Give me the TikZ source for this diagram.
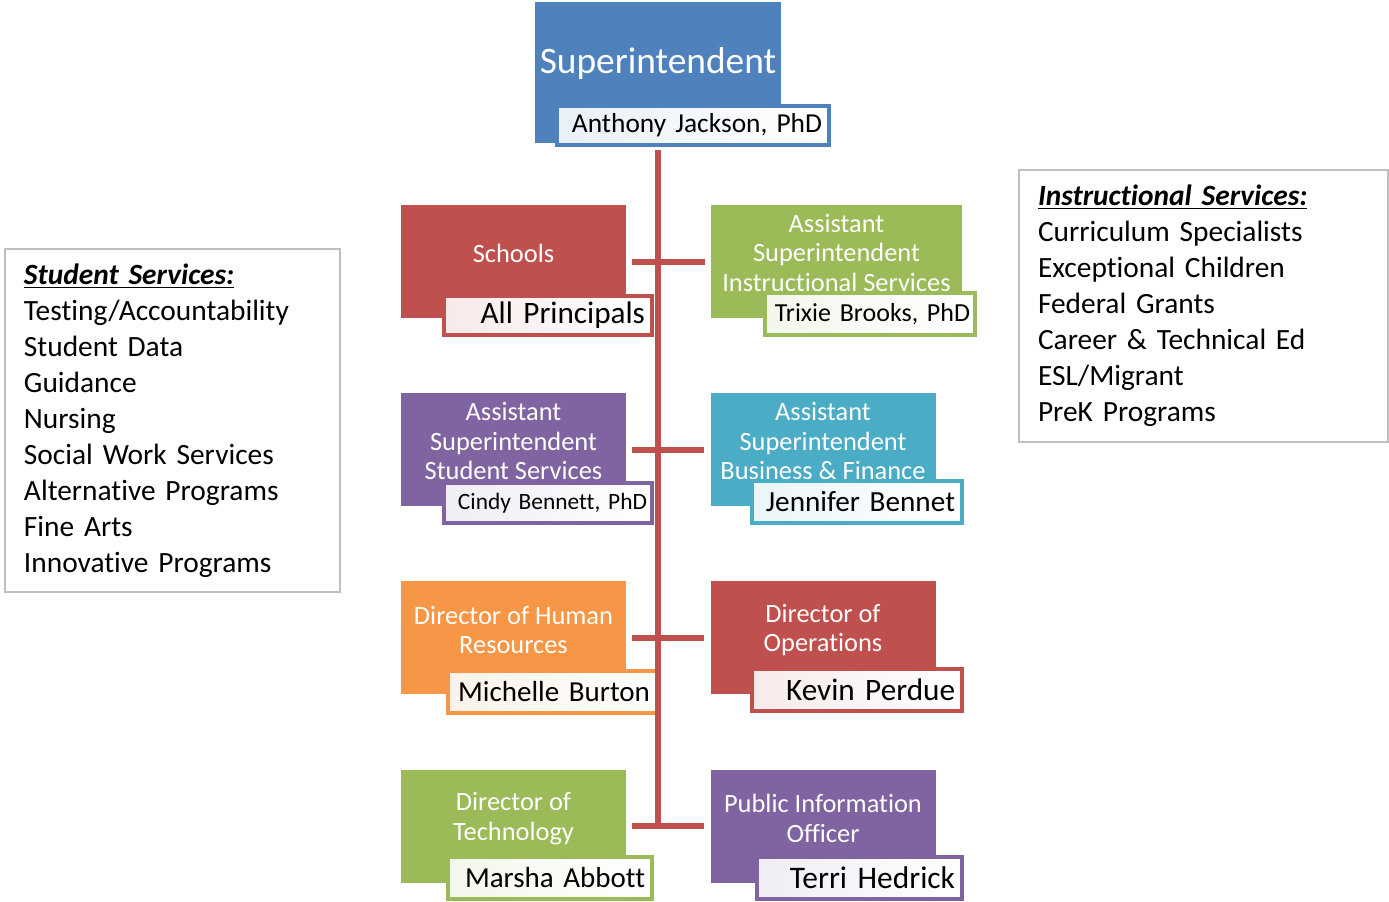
\documentclass[tikz,border=0pt]{standalone}
\usepackage{fontspec}
\setmainfont{Carlito}[Ligatures=NoCommon]
\usetikzlibrary{positioning}

\definecolor{supblue}{RGB}{79,129,189}
\definecolor{orgred}{RGB}{192,80,77}
\definecolor{orggreen}{RGB}{155,187,89}
\definecolor{orgpurple}{RGB}{128,100,162}
\definecolor{orgaqua}{RGB}{75,172,198}
\definecolor{orgorange}{RGB}{247,150,70}
\definecolor{sidegray}{RGB}{191,191,191}

\begin{document}
\begin{tikzpicture}[
x=0.5pt, y=-0.5pt,
titlebox/.style={rectangle, fill=#1, minimum width=112.5pt, minimum height=56.5pt, inner sep=0pt},
titletext/.style={text=white, align=center, font=\fontsize{13.2}{14.75}\selectfont},
namebox/.style={rectangle, draw=#1, line width=2pt, left color=#1!12, right color=white, inner xsep=3.5pt, inner ysep=0pt, align=right},
conn/.style={draw=orgred, line width=3pt},
sidebox/.style={rectangle, draw=sidegray, line width=1pt, align=left, inner xsep=9.5pt, font=\fontsize{14.7}{18}\selectfont}
]
    \useasboundingbox (0,0) rectangle (1389,901);

    % superintendent
    \node [rectangle, fill=supblue, minimum width=123pt, minimum height=70.5pt, inner sep=0pt] (sup) at (658,72.5) {};
    \node [text=white, font=\fontsize{18.7}{21}\selectfont] (suptext) at (658,64) {Superintendent};
    \node [namebox=supblue, minimum height=19.5pt, text width=129pt, font=\fontsize{13.7}{15}\selectfont] (supname) at (693,125.5) {Anthony Jackson, PhD};

    % row 1
    \node [titlebox=orgred] (schools) at (513.5,261.5) {};
    \node [titletext] at (513.5,253) {Schools};
    \node [namebox=orgred, minimum height=19.5pt, text width=97pt, font=\fontsize{15.6}{17}\selectfont] (schoolsname) at (548,315.5) {All Principals};

    \node [titlebox=orggreen, minimum width=125.5pt] (asis) at (836.5,261.5) {};
    \node [titletext] at (836.5,253) {Assistant\\Superintendent\\Instructional Services};
    \node [namebox=orggreen, minimum height=21pt, inner xsep=2.5pt, text width=100pt, font=\fontsize{13}{15}\selectfont] (asisname) at (870,314) {Trixie Brooks, PhD};

    % row 2
    \node [titlebox=orgpurple] (asss) at (513.5,449.5) {};
    \node [titletext] at (513.5,441.5) {Assistant\\Superintendent\\Student Services};
    \node [namebox=orgpurple, minimum height=20pt, inner xsep=2.5pt, text width=99pt, font=\fontsize{11.7}{13}\selectfont] (asssname) at (548,503) {Cindy Bennett, PhD};

    \node [titlebox=orgaqua] (asbf) at (823,449.5) {};
    \node [titletext] at (823,441.5) {Assistant\\Superintendent\\Business \& Finance};
    \node [namebox=orgaqua, minimum height=21pt, text width=98pt, font=\fontsize{14.6}{16}\selectfont] (asbfname) at (857,502) {Jennifer Bennet};

    % row 3
    \node [titlebox=orgorange] (dhr) at (513.5,637.5) {};
    \node [titletext] at (513.5,630) {Director of Human\\Resources};
    \node [namebox=orgorange, minimum height=21pt, text width=97.5pt, font=\fontsize{14.5}{16}\selectfont] (dhrname) at (552.5,692) {Michelle Burton};

    \node [titlebox=orgred] (dops) at (823,637.5) {};
    \node [titletext] at (823,630) {Director of\\Operations};
    \node [namebox=orgred, minimum height=21pt, text width=98pt, font=\fontsize{15.6}{17}\selectfont] (dopsname) at (857,690) {Kevin Perdue};

    % row 4
    \node [titlebox=orggreen] (dtech) at (513.5,826) {};
    \node [titletext] at (513.5,818.5) {Director of\\Technology};
    \node [namebox=orggreen, minimum height=21pt, text width=95pt, font=\fontsize{14.5}{16}\selectfont] (dtechname) at (550,878) {Marsha Abbott};

    \node [titlebox=orgpurple] (pio) at (823,826) {};
    \node [titletext] at (823,818.5) {Public Information\\Officer};
    \node [namebox=orgpurple, minimum height=21pt, text width=95.5pt, font=\fontsize{15.7}{17}\selectfont] (pioname) at (859.5,878) {Terri Hedrick};

    % connectors
    \coordinate (trunkend) at (658,826);
    \draw [conn, shorten <=3.5pt] (sup.south) -- (trunkend);
    \draw [conn, shorten <=3pt, shorten >=3pt] (schools.east) -- (asis.west);
    \draw [conn, shorten <=3pt, shorten >=3pt] (asss.east) -- (asbf.west);
    \draw [conn, shorten <=3pt, shorten >=3pt] (dhr.east) -- (dops.west);
    \draw [conn, shorten <=3pt, shorten >=3pt] (dtech.east) -- (pio.west);

    % side lists
    \node [sidebox, minimum width=167.5pt, minimum height=171.5pt, text width=148.5pt] (students) at (172.5,420.5) {\underline{\textbf{\textit{Student Services:}}}\\Testing/Accountability\\Student Data\\Guidance\\Nursing\\Social Work Services\\Alternative Programs\\Fine Arts\\Innovative Programs};
    \node [sidebox, minimum width=184.5pt, minimum height=136pt, text width=165.5pt] (instr) at (1203.5,306) {\underline{\textbf{\textit{Instructional Services:}}}\\Curriculum Specialists\\Exceptional Children\\Federal Grants\\Career \& Technical Ed\\ESL/Migrant\\PreK Programs};
\end{tikzpicture}
\end{document}
